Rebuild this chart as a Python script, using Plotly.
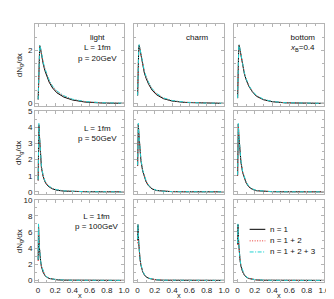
import plotly.graph_objects as go

# ---------------- data ----------------
x_vals = [0.002, 0.006, 0.01, 0.015, 0.02, 0.03, 0.04, 0.06, 0.08, 0.1,
          0.13, 0.17, 0.22, 0.3, 0.4, 0.55, 0.75, 1.0]

# row 1: L = 1fm, p = 20GeV
light20_n1   = [0.15, 0.9, 1.5, 2.0, 2.18, 2.05, 1.82, 1.5, 1.24, 1.03, 0.8, 0.58, 0.4, 0.24, 0.13, 0.05, 0.014, 0.003]
light20_n12  = [0.15, 0.92, 1.52, 2.02, 2.2, 2.08, 1.86, 1.55, 1.3, 1.1, 0.86, 0.63, 0.45, 0.28, 0.15, 0.065, 0.022, 0.005]
light20_n123 = [0.15, 0.93, 1.53, 2.03, 2.21, 2.09, 1.88, 1.57, 1.32, 1.12, 0.88, 0.65, 0.47, 0.29, 0.16, 0.07, 0.026, 0.007]

charm20_n1   = [0.3, 1.2, 1.75, 2.1, 2.2, 2.0, 1.78, 1.4, 1.15, 0.95, 0.72, 0.5, 0.33, 0.18, 0.09, 0.035, 0.009, 0.002]
charm20_n12  = [0.3, 1.22, 1.77, 2.12, 2.21, 2.03, 1.82, 1.45, 1.2, 1.0, 0.77, 0.54, 0.36, 0.2, 0.1, 0.042, 0.013, 0.004]
charm20_n123 = [0.3, 1.23, 1.78, 2.13, 2.22, 2.04, 1.83, 1.47, 1.22, 1.02, 0.79, 0.56, 0.38, 0.21, 0.11, 0.046, 0.015, 0.005]

bottom20_n1   = [0.2, 1.3, 1.9, 2.15, 2.2, 2.02, 1.8, 1.42, 1.12, 0.9, 0.66, 0.45, 0.27, 0.14, 0.065, 0.022, 0.006, 0.001]
bottom20_n12  = [0.2, 1.32, 1.92, 2.17, 2.21, 2.04, 1.82, 1.45, 1.15, 0.93, 0.68, 0.47, 0.29, 0.15, 0.07, 0.025, 0.007, 0.002]
bottom20_n123 = [0.2, 1.33, 1.93, 2.18, 2.22, 2.05, 1.83, 1.46, 1.16, 0.94, 0.69, 0.48, 0.3, 0.16, 0.074, 0.027, 0.008, 0.002]

# row 2: L = 1fm, p = 50GeV
light50_n1   = [0.7, 3.6, 4.15, 3.6, 3.0, 2.1, 1.5, 0.95, 0.63, 0.46, 0.3, 0.18, 0.1, 0.045, 0.02, 0.007, 0.002, 0.0005]
light50_n12  = [0.72, 3.7, 4.2, 3.65, 3.05, 2.15, 1.55, 1.0, 0.67, 0.5, 0.33, 0.2, 0.12, 0.055, 0.025, 0.01, 0.003, 0.001]
light50_n123 = [0.75, 3.75, 4.25, 3.7, 3.08, 2.18, 1.58, 1.02, 0.69, 0.52, 0.35, 0.21, 0.13, 0.06, 0.028, 0.011, 0.004, 0.001]

charm50_n1   = [1.6, 3.9, 4.2, 3.7, 3.2, 2.5, 1.95, 1.3, 0.9, 0.62, 0.36, 0.18, 0.08, 0.03, 0.01, 0.003, 0.0008, 0.0002]
charm50_n12  = [1.62, 3.95, 4.23, 3.74, 3.25, 2.55, 2.0, 1.35, 0.94, 0.66, 0.39, 0.2, 0.09, 0.035, 0.012, 0.004, 0.001, 0.0003]
charm50_n123 = [1.65, 3.97, 4.25, 3.76, 3.27, 2.57, 2.02, 1.37, 0.96, 0.68, 0.4, 0.21, 0.095, 0.037, 0.013, 0.004, 0.001, 0.0003]

bottom50_n1   = [1.0, 3.8, 4.2, 3.6, 3.1, 2.4, 1.85, 1.2, 0.82, 0.56, 0.32, 0.16, 0.07, 0.025, 0.008, 0.002, 0.0006, 0.0001]
bottom50_n12  = [1.02, 3.85, 4.22, 3.64, 3.15, 2.45, 1.9, 1.25, 0.86, 0.6, 0.35, 0.18, 0.08, 0.03, 0.01, 0.003, 0.0008, 0.0002]
bottom50_n123 = [1.05, 3.87, 4.24, 3.66, 3.17, 2.47, 1.92, 1.27, 0.88, 0.62, 0.36, 0.19, 0.085, 0.032, 0.011, 0.003, 0.0009, 0.0002]

# row 3: L = 1fm, p = 100GeV
light100_n1   = [2.5, 6.8, 5.5, 4.2, 3.4, 2.4, 1.7, 1.0, 0.62, 0.4, 0.24, 0.13, 0.07, 0.03, 0.012, 0.004, 0.001, 0.0003]
light100_n12  = [2.4, 6.95, 5.6, 4.3, 3.5, 2.45, 1.75, 1.05, 0.66, 0.43, 0.26, 0.15, 0.08, 0.035, 0.015, 0.005, 0.0015, 0.0004]
light100_n123 = [2.6, 7.0, 5.65, 4.35, 3.52, 2.48, 1.78, 1.07, 0.68, 0.45, 0.27, 0.16, 0.085, 0.038, 0.016, 0.006, 0.002, 0.0005]

charm100_n1   = [5.0, 6.9, 5.8, 4.6, 3.7, 2.6, 1.9, 1.1, 0.68, 0.44, 0.25, 0.13, 0.06, 0.02, 0.007, 0.002, 0.0005, 0.0001]
charm100_n12  = [4.6, 6.95, 5.85, 4.65, 3.75, 2.65, 1.95, 1.15, 0.72, 0.47, 0.27, 0.14, 0.065, 0.023, 0.008, 0.0025, 0.0006, 0.0001]
charm100_n123 = [5.1, 7.0, 5.9, 4.7, 3.78, 2.67, 1.97, 1.17, 0.74, 0.48, 0.28, 0.15, 0.07, 0.025, 0.009, 0.003, 0.0007, 0.0002]

bottom100_n1   = [4.5, 6.9, 5.7, 4.5, 3.6, 2.5, 1.8, 1.05, 0.65, 0.42, 0.24, 0.12, 0.055, 0.018, 0.006, 0.002, 0.0005, 0.0001]
bottom100_n12  = [4.4, 6.95, 5.75, 4.55, 3.65, 2.55, 1.85, 1.1, 0.69, 0.45, 0.26, 0.13, 0.06, 0.021, 0.007, 0.0025, 0.0006, 0.0001]
bottom100_n123 = [4.6, 7.0, 5.8, 4.6, 3.68, 2.58, 1.87, 1.12, 0.7, 0.46, 0.27, 0.14, 0.065, 0.023, 0.008, 0.003, 0.0007, 0.0002]

series_names = ["n = 1", "n = 1 + 2", "n = 1 + 2 + 3"]
x_tick_vals = [0, 0.2, 0.4, 0.6, 0.8, 1.0]
x_tick_text = ["0", "0.2", "0.4", "0.6", "0.8", "1.0"]

panels = [
    [(light20_n1, light20_n12, light20_n123), (charm20_n1, charm20_n12, charm20_n123), (bottom20_n1, bottom20_n12, bottom20_n123)],
    [(light50_n1, light50_n12, light50_n123), (charm50_n1, charm50_n12, charm50_n123), (bottom50_n1, bottom50_n12, bottom50_n123)],
    [(light100_n1, light100_n12, light100_n123), (charm100_n1, charm100_n12, charm100_n123), (bottom100_n1, bottom100_n12, bottom100_n123)],
]

# ---------------- style ----------------
FONT = "Liberation Sans"
line_styles = [dict(color="#000000", width=1.0, dash="solid"),
               dict(color="#e8352e", width=1.0, dash="1px,1.5px"),
               dict(color="#22d2d2", width=1.0, dash="4px,1.5px,1px,1.5px")]
col_domains = [[0.0, 0.308], [0.344, 0.654], [0.69, 1.0]]
row_domains = [[0.684, 1.0], [0.342, 0.662], [0.0, 0.319]]
y_ranges = [[-0.08, 3.0], [-0.12, 5.0], [-0.2, 10.0]]
y_dticks = [2, 1, 2]
y_minor = [0.5, 0.5, 1]
frame = "#b4b4b4"

fig = go.Figure()
layout = dict(
    width=334, height=299,
    margin=dict(l=27, r=12, t=12, b=24),
    paper_bgcolor="white", plot_bgcolor="white",
    showlegend=False,
    font=dict(family=FONT, size=8, color="#222"),
)

for r in range(3):
    for c in range(3):
        idx = r * 3 + c + 1
        xa = "x" if idx == 1 else f"x{idx}"
        ya = "y" if idx == 1 else f"y{idx}"
        for k in range(3):
            fig.add_trace(go.Scatter(
                x=x_vals, y=panels[r][c][k], mode="lines",
                line=line_styles[k], name=series_names[k],
                xaxis=xa, yaxis=ya, showlegend=False))
        xkey = "xaxis" if idx == 1 else f"xaxis{idx}"
        ykey = "yaxis" if idx == 1 else f"yaxis{idx}"
        layout[xkey] = dict(
            domain=col_domains[c], anchor=ya, range=[-0.035, 1.0],
            showline=True, linecolor=frame, linewidth=1, mirror="ticks",
            ticks="inside", ticklen=3, tickcolor=frame, tickwidth=1,
            tickvals=x_tick_vals, ticktext=x_tick_text,
            showticklabels=(r == 2), showgrid=False, zeroline=False,
            minor=dict(ticks="inside", ticklen=2, tickcolor=frame, dtick=0.1, tick0=0, showgrid=False),
            tickfont=dict(family=FONT, size=8, color="#222"),
        )
        layout[ykey] = dict(
            domain=row_domains[r], anchor=xa, range=y_ranges[r],
            showline=True, linecolor=frame, linewidth=1, mirror="ticks",
            ticks="inside", ticklen=3, tickcolor=frame, tickwidth=1,
            dtick=y_dticks[r], tick0=0,
            showticklabels=(c == 0), showgrid=False, zeroline=False,
            minor=dict(ticks="inside", ticklen=2, tickcolor=frame, dtick=y_minor[r], tick0=0, showgrid=False),
            tickfont=dict(family=FONT, size=8, color="#222"),
        )

fig.update_layout(**layout)

ann = []
txt = dict(family=FONT, size=8, color="#111")
# panel labels
ann.append(dict(text="light<br>L = 1fm<br>p = 20GeV", xref="x domain", yref="y domain",
                x=0.7, y=0.92, xanchor="center", yanchor="top", showarrow=False, font=txt, align="center"))
ann.append(dict(text="charm", xref="x2 domain", yref="y2 domain",
                x=0.7, y=0.92, xanchor="center", yanchor="top", showarrow=False, font=txt))
ann.append(dict(text="bottom<br><i>x</i><sub>B</sub>=0.4", xref="x3 domain", yref="y3 domain",
                x=0.76, y=0.92, xanchor="center", yanchor="top", showarrow=False, font=txt, align="center"))
ann.append(dict(text="L = 1fm<br>p = 50GeV", xref="x4 domain", yref="y4 domain",
                x=0.7, y=0.87, xanchor="center", yanchor="top", showarrow=False, font=txt, align="center"))
ann.append(dict(text="L = 1fm<br>p = 100GeV", xref="x7 domain", yref="y7 domain",
                x=0.7, y=0.87, xanchor="center", yanchor="top", showarrow=False, font=txt, align="center"))
# y titles
for r, yname in enumerate(["y", "y4", "y7"]):
    ann.append(dict(text="dN<sub>g</sub>/dx", xref="paper", yref=f"{yname} domain",
                    x=-0.054, y=0.5, xanchor="center", yanchor="middle", textangle=-90,
                    showarrow=False, font=dict(family=FONT, size=8, color="#222")))
# x titles
for xname in ["x7", "x8", "x9"]:
    ann.append(dict(text="x", xref=f"{xname} domain", yref="paper",
                    x=0.5, y=-0.054, xanchor="center", yanchor="middle", borderpad=0,
                    showarrow=False, font=dict(family=FONT, size=7.5, color="#222")))

# legend (custom) in bottom-right panel
shapes = []
leg_y = [0.64, 0.5, 0.365]
for k in range(3):
    shapes.append(dict(type="line", xref="x9 domain", yref="y9 domain",
                       x0=0.17, x1=0.345, y0=leg_y[k], y1=leg_y[k],
                       line=line_styles[k]))
    ann.append(dict(text=series_names[k], xref="x9 domain", yref="y9 domain",
                    x=0.37, y=leg_y[k], xanchor="left", yanchor="middle",
                    showarrow=False, font=dict(family=FONT, size=8, color="#111")))

fig.update_layout(annotations=ann, shapes=shapes)
fig.write_html("out.html")
